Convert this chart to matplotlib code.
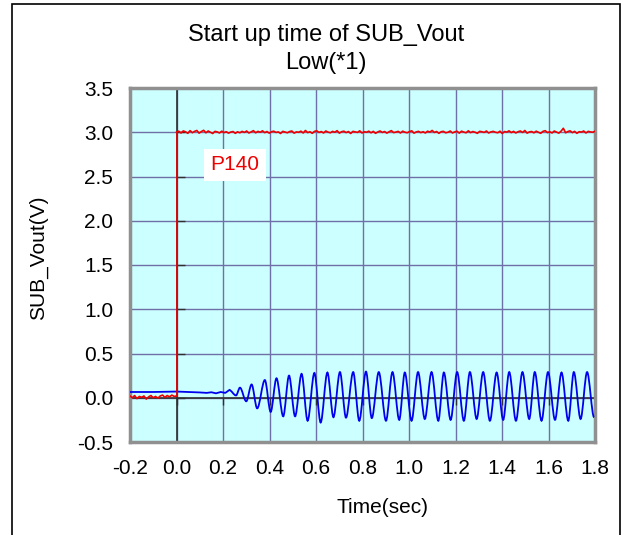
import matplotlib.pyplot as plt
import numpy as np
from matplotlib.patches import Rectangle, PathPatch
from matplotlib.path import Path

plt.rcParams['font.family'] = ['Liberation Sans', 'DejaVu Sans']

# axis ticks
x_ticks = [-0.2, 0.0, 0.2, 0.4, 0.6, 0.8, 1.0, 1.2, 1.4, 1.6, 1.8]
y_ticks = [-0.5, 0.0, 0.5, 1.0, 1.5, 2.0, 2.5, 3.0, 3.5]

# blue trace: flat level before the oscillation starts
blue_flat_t = [-0.2, -0.1, 0.0, 0.05, 0.10, 0.13, 0.15, 0.17, 0.19, 0.21]
blue_flat_v = [0.065, 0.065, 0.07, 0.065, 0.06, 0.055, 0.062, 0.05, 0.065, 0.055]

# blue trace: peaks and troughs of the oscillation
blue_ext_t = [0.227, 0.256, 0.273, 0.300, 0.323, 0.347, 0.380, 0.405, 0.430, 0.459,
              0.484, 0.510, 0.538, 0.564, 0.593, 0.620, 0.649, 0.675, 0.703, 0.729,
              0.760, 0.786, 0.815, 0.840, 0.870, 0.901, 0.929, 0.958, 0.982, 1.011,
              1.039, 1.068, 1.097, 1.126, 1.150, 1.179, 1.207, 1.236, 1.262, 1.291,
              1.319, 1.348, 1.377, 1.405, 1.431, 1.460, 1.488, 1.517, 1.541, 1.570,
              1.598, 1.628, 1.656, 1.685, 1.709, 1.738, 1.766, 1.796]
blue_ext_v = [0.087, 0.026, 0.114, -0.04, 0.15, -0.12, 0.20, -0.16, 0.22, -0.21,
              0.25, -0.21, 0.27, -0.26, 0.28, -0.28, 0.285, -0.22, 0.29, -0.225,
              0.29, -0.26, 0.295, -0.23, 0.29, -0.26, 0.29, -0.25, 0.285, -0.26,
              0.29, -0.24, 0.29, -0.26, 0.285, -0.25, 0.29, -0.26, 0.29, -0.24,
              0.29, -0.26, 0.285, -0.25, 0.29, -0.26, 0.29, -0.24, 0.29, -0.26,
              0.29, -0.25, 0.285, -0.26, 0.29, -0.24, 0.29, -0.22]

# red trace: low level before t=0 (volts)
red_low_t = [-0.2, -0.19, -0.18, -0.17, -0.16, -0.15, -0.14, -0.13, -0.12, -0.11,
             -0.10, -0.09, -0.08, -0.07, -0.06, -0.05, -0.04, -0.03, -0.02, -0.01, 0.0]
red_low_v = [0.02, 0.0, 0.025, -0.01, 0.015, 0.005, 0.02, -0.015, 0.01, 0.025,
             0.0, 0.015, -0.005, 0.02, 0.03, 0.005, 0.025, 0.01, 0.03, 0.015, 0.02]

# red trace: ripple around 3.0 V after t=0 (mV, read roughly every 0.009 s)
red_high_mv = [0, 12, -8, 15, 5, -12, 18, -5, 10, 20, -10, 8, 22, -6, 14, 0,
               -14, 10, 4, -8, 12, -4, 6, -10, 2, 8, -12, 5, -6, 10,
               -2, 14, -8, 4, 18, -6, 10, 0, 16, -4, 8, -10, 6, 12, -2, 4,
               -14, 10, 2, -6, 8, 14, -10, 4, 0, 12, -8, 20, -4, 6,
               -12, 10, 16, -2, 8, -8, 14, 2, -6, 10, 0, 18, -10, 6, 12,
               -4, 8, -14, 10, 4, -2, 16, -8, 6, 0, 12, -6, 10, -12, 4,
               14, -2, 8, -10, 6, 18, -4, 2, 10, -8, 12, 0, -6, 8, 16,
               -10, 4, 10, -4, 6, -8, 12, 2, 20, -2, 8, -12, 6, 10, -6,
               0, 14, -8, 4, 12, -10, 12, 2, -6, 16, -4, 8, 0, -12, 10,
               6, -2, 14, -8, 4, 10, 0, -6, 12, -14, 8, 2, 16, -4, 10,
               -8, 6, 14, -2, 20, -10, 4, 8, -6, 12, 0, -12, 10, 18, -4,
               6, -8, 14, 2, -10, 12, 45, -6, 8, 16, -4, 10, -12, 6, 2,
               14, -8, 10, 4, 0, 12]

red_high_t = np.linspace(0.0, 1.8, len(red_high_mv))
red_high_v = 3.0 + np.array(red_high_mv) / 1000.0

fig = plt.figure(figsize=(6.29, 5.35), dpi=100)
ax = fig.add_axes([130 / 629, 1 - 442 / 535, 465 / 629, 354 / 535])
ax.set_facecolor('#ccffff')

ax.set_xlim(-0.2, 1.8)
ax.set_ylim(-0.5, 3.5)
ax.set_xticks(x_ticks)
ax.set_yticks(y_ticks)
ax.set_xticklabels([f'{t:.1f}' for t in x_ticks])
ax.set_yticklabels([f'{t:.1f}' for t in y_ticks])
ax.tick_params(length=0, labelsize=15, pad=12)
ax.grid(color='#7070a8', lw=1)
ax.set_axisbelow(True)
for sp in ax.spines.values():
    sp.set_color('#909090')
    sp.set_linewidth(2.5)

# black zero axes with small ticks
ax.axhline(0, color='#303030', lw=1.2, zorder=2)
ax.axvline(0, color='#303030', lw=1.2, zorder=2)
ax.plot([0] * len(y_ticks), y_ticks, ls='none', marker=1, ms=6, color='#303030', zorder=2)
ax.plot(x_ticks, [0] * len(x_ticks), ls='none', marker=3, ms=5, color='#303030', zorder=2)

# blue trace: flat part as a polyline, oscillation as smooth curves through the extrema
ax.plot(blue_flat_t + blue_ext_t[:1], blue_flat_v + blue_ext_v[:1], color='#0000ee', lw=1.3, zorder=3)
verts = [(blue_ext_t[0], blue_ext_v[0])]
codes = [Path.MOVETO]
for i in range(len(blue_ext_t) - 1):
    t0, v0 = blue_ext_t[i], blue_ext_v[i]
    t1, v1 = blue_ext_t[i + 1], blue_ext_v[i + 1]
    dt = (t1 - t0) / 3
    verts += [(t0 + dt, v0), (t1 - dt, v1), (t1, v1)]
    codes += [Path.CURVE4] * 3
ax.add_patch(PathPatch(Path(verts, codes), facecolor='none', edgecolor='#0000ee', lw=1.3, zorder=3))

# red trace
ax.plot(red_low_t, red_low_v, color='#ee0000', lw=1.2, zorder=4)
ax.plot([0.0, 0.0], [red_low_v[-1], red_high_v[0]], color='#ee0000', lw=1.2, zorder=4)
ax.plot(red_high_t, red_high_v, color='#ee0000', lw=1.2, zorder=4)

ax.text(0.252, 2.63, 'P140', color='#ee0000', fontsize=15, ha='center', va='center',
        bbox=dict(facecolor='white', edgecolor='none', pad=5), zorder=5)

ax.set_xlabel('Time(sec)', fontsize=15)
ax.set_ylabel('SUB_Vout(V)', fontsize=15)
ax.xaxis.set_label_coords(0.542, -0.186)
ax.yaxis.set_label_coords(-0.196, 0.52)
ax.xaxis.label.set_va('center')
ax.yaxis.label.set_va('center')

fig.text(326 / 629, 1 - 35 / 535, 'Start up time of SUB_Vout', fontsize=17, ha='center', va='center')
fig.text(326 / 629, 1 - 63 / 535, 'Low(*1)', fontsize=17, ha='center', va='center')

# outer frame
fig.add_artist(Rectangle((12 / 629, -0.05), 608 / 629, 1.05 - 4 / 535, transform=fig.transFigure,
                         fill=False, edgecolor='black', lw=1.2))

fig.savefig('out.png', dpi=100)
